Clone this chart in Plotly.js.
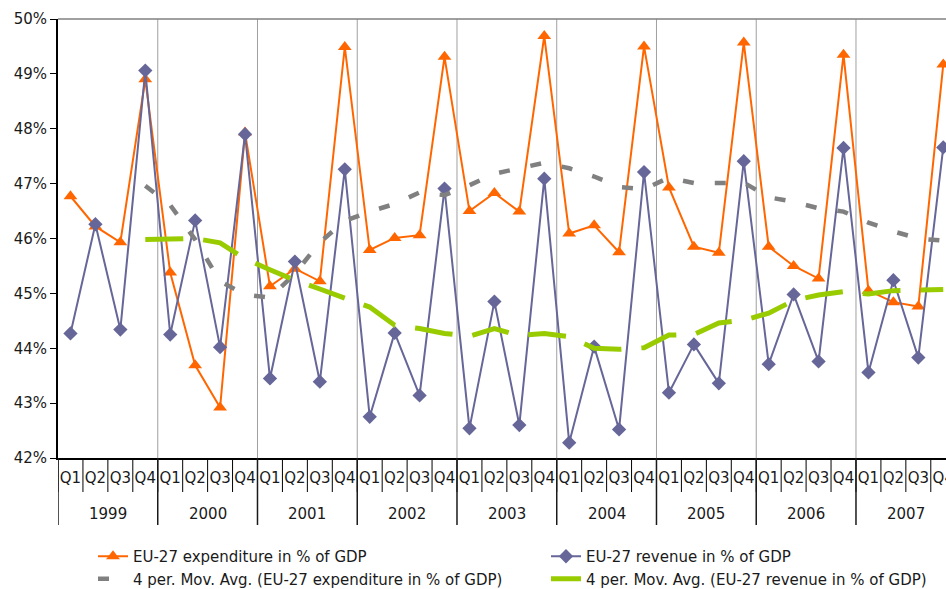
<!DOCTYPE html>
<html>
<head>
<meta charset="utf-8">
<script src="https://cdn.plot.ly/plotly-3.0.1.min.js"></script>
<style>
  html, body { margin: 0; padding: 0; background: #ffffff; }
  #chart { width: 946px; height: 589px; }
</style>
</head>
<body>
<div id="chart"></div>
<script>
// Quarterly EU-27 general government expenditure and revenue, % of GDP
const years = ['1999', '2000', '2001', '2002', '2003', '2004', '2005', '2006', '2007'];
const quarters = ['Q1', 'Q2', 'Q3', 'Q4'];

const expenditure = [
  46.77, 46.22, 45.93, 48.90,
  45.38, 43.69, 42.92, 47.93,
  45.13, 45.45, 45.22, 49.49,
  45.79, 46.01, 46.06, 49.31,
  46.50, 46.83, 46.49, 49.69,
  46.09, 46.24, 45.75, 49.50,
  46.93, 45.85, 45.74, 49.57,
  45.85, 45.50, 45.27, 49.35,
  45.05, 44.84, 44.76, 49.17
];

const revenue = [
  44.27, 46.26, 44.34, 49.06,
  44.25, 46.33, 44.02, 47.90,
  43.45, 45.58, 43.39, 47.26,
  42.75, 44.28, 43.14, 46.91,
  42.54, 44.85, 42.60, 47.09,
  42.28, 44.03, 42.52, 47.21,
  43.19, 44.07, 43.36, 47.41,
  43.71, 44.98, 43.76, 47.65,
  43.56, 45.24, 43.83, 47.66
];

// 4-period moving-average trendlines (first value at Q4 1999)
const expenditureMovAvg = [
  null, null, null, 46.96,
  46.61, 45.98, 45.22, 44.98,
  44.92, 45.36, 45.93, 46.32,
  46.49, 46.63, 46.84, 46.79,
  46.97, 47.18, 47.28, 47.38,
  47.28, 47.13, 46.94, 46.90,
  47.11, 47.01, 47.01, 47.02,
  46.75, 46.67, 46.55, 46.49,
  46.29, 46.13, 46.00, 45.96
];

const revenueMovAvg = [
  null, null, null, 45.98,
  45.98, 46.00, 45.92, 45.63,
  45.43, 45.24, 45.08, 44.92,
  44.75, 44.42, 44.36, 44.27,
  44.22, 44.36, 44.23, 44.27,
  44.21, 44.00, 43.98, 44.01,
  44.24, 44.25, 44.46, 44.51,
  44.64, 44.87, 44.97, 45.03,
  44.99, 45.05, 45.07, 45.07
];

const seriesNames = [
  'EU-27 expenditure in % of GDP',
  'EU-27 revenue in % of GDP',
  '4 per. Mov. Avg. (EU-27 expenditure in % of GDP)',
  '4 per. Mov. Avg. (EU-27 revenue in % of GDP)'
];

const FONT = 'DejaVu Sans, Verdana, sans-serif';
const TEXT = '#1a1a1a';

// one slot per quarter along the category axis
const slots = expenditure.map((_, i) => i);
const quarterText = years.flatMap(() => quarters);

const traces = [
  {
    x: slots, y: expenditure, name: seriesNames[0], type: 'scatter', mode: 'lines+markers',
    legend: 'legend',
    line: { color: '#ff6600', width: 2 },
    marker: { symbol: 'triangle-up', size: 12, color: '#ff6600' }
  },
  {
    x: slots, y: revenue, name: seriesNames[1], type: 'scatter', mode: 'lines+markers',
    legend: 'legend2',
    line: { color: '#666699', width: 2 },
    marker: { symbol: 'diamond', size: 11, color: '#666699' }
  },
  {
    x: slots, y: expenditureMovAvg, name: seriesNames[2], type: 'scatter', mode: 'lines',
    legend: 'legend',
    line: { color: '#808080', width: 4.5, dash: '11px,21px' }
  },
  {
    x: slots, y: revenueMovAvg, name: seriesNames[3], type: 'scatter', mode: 'lines',
    legend: 'legend2',
    line: { color: '#99cc00', width: 5, dash: '38px,20px' }
  }
];

const plotW = 888;
const plotH = 439;
const shapes = [];
// year gridlines inside the plot
for (let k = 1; k < years.length; k++) {
  shapes.push({ type: 'line', xref: 'x', yref: 'paper', x0: 4 * k - 0.5, x1: 4 * k - 0.5, y0: 0, y1: 1,
    line: { color: '#a0a0a0', width: 1 }, layer: 'below' });
}
// top frame line
shapes.push({ type: 'line', xref: 'paper', yref: 'paper', x0: 0, x1: 1, y0: 1, y1: 1,
  line: { color: '#808080', width: 1.5 } });
// separators between quarter labels
for (let b = 0; b <= slots.length; b++) {
  shapes.push({ type: 'line', xref: 'x', yref: 'paper', x0: b - 0.5, x1: b - 0.5, y0: 0, y1: -34 / plotH,
    line: { color: '#000000', width: 1 } });
}
// separators between year labels
for (let k = 0; k <= years.length; k++) {
  shapes.push({ type: 'line', xref: 'x', yref: 'paper', x0: 4 * k - 0.5, x1: 4 * k - 0.5, y0: 0, y1: -67 / plotH,
    line: { color: '#1a1a1a', width: 1.5 } });
}

const annotations = years.map((yr, k) => ({
  text: yr, xref: 'x', yref: 'paper', x: 4 * k + 1.5, y: -56 / plotH,
  xanchor: 'center', yanchor: 'middle', showarrow: false,
  font: { family: FONT, size: 15, color: TEXT }
}));

const legendBase = {
  orientation: 'v', xanchor: 'left', y: -82 / plotH, yanchor: 'top',
  font: { family: FONT, size: 15, color: TEXT },
  bgcolor: 'rgba(0,0,0,0)', borderwidth: 0, tracegroupgap: 0
};

const layout = {
  width: 946, height: 589,
  margin: { l: 58, r: 0, t: 19, b: 131, autoexpand: false },
  paper_bgcolor: '#ffffff', plot_bgcolor: '#ffffff',
  font: { family: FONT, size: 15, color: TEXT },
  showlegend: true,
  xaxis: {
    range: [-0.5, 35.11],
    tickmode: 'array', tickvals: slots, ticktext: quarterText,
    ticks: '', showgrid: false, zeroline: false,
    showline: true, linecolor: '#000000', linewidth: 2,
    ticklabelstandoff: 5, ticklabeloverflow: 'allow',
    tickfont: { family: FONT, size: 15, color: TEXT },
    fixedrange: true
  },
  yaxis: {
    range: [42, 50], dtick: 1, tick0: 42, ticksuffix: '%',
    ticks: 'outside', ticklen: 6, tickcolor: '#000000', tickwidth: 1,
    showgrid: false, zeroline: false,
    showline: true, linecolor: '#000000', linewidth: 2,
    tickfont: { family: FONT, size: 15, color: TEXT },
    fixedrange: true
  },
  legend: Object.assign({}, legendBase, { x: 35 / plotW }),
  legend2: Object.assign({}, legendBase, { x: 488 / plotW }),
  shapes: shapes,
  annotations: annotations
};

Plotly.newPlot('chart', traces, layout, { displayModeBar: false, staticPlot: true });
</script>
</body>
</html>
